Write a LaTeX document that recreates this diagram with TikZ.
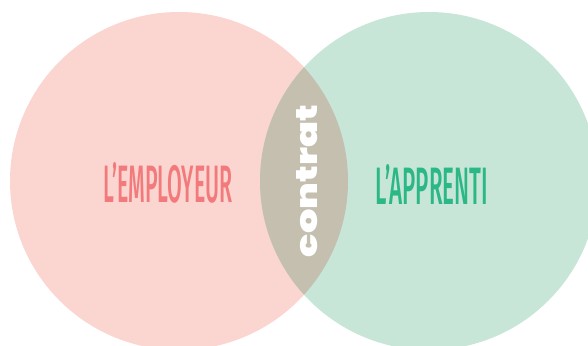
\documentclass[tikz,border=0pt]{standalone}
\usepackage{fontspec}
\setmainfont{Fira Sans}
\newfontfamily\labelfont{Fira Sans Medium}
\newfontfamily\lensfont{Poppins Black}
\definecolor{pinkfill}{HTML}{FBD5CF}
\definecolor{greenfill}{HTML}{C8E6D8}
\definecolor{lensfill}{HTML}{C4BFAE}
\definecolor{redtext}{HTML}{F27A7D}
\definecolor{greentext}{HTML}{2BB886}
\begin{document}
\begin{tikzpicture}[x=1pt,y=-1pt,
  setcircle/.style={circle,minimum size=338pt,inner sep=0pt,outer sep=0pt},
  biglabel/.style={inner sep=0pt,font=\labelfont}]
\useasboundingbox (0,0) rectangle (588,345);
\clip (0,0) rectangle (588,345);
\node[setcircle,fill=pinkfill] (employeur) at (179,181) {};
\node[setcircle,fill=greenfill] (apprenti) at (429,181) {};
\begin{scope}
  \clip (179,181) circle[radius=169];
  \fill[lensfill] (429,181) circle[radius=169];
\end{scope}
\node[biglabel,text=redtext] (lemp) at (168,182.7) {\resizebox{129pt}{40pt}{L’EMPLOYEUR}};
\node[biglabel,text=greentext] (lapp) at (432,184) {\resizebox{112pt}{40pt}{L’APPRENTI}};
\node[inner sep=0pt,text=white,rotate=90] (contrat) at (307.5,181) {\resizebox{152pt}{21pt}{\lensfont contrat}};
\end{tikzpicture}
\end{document}
